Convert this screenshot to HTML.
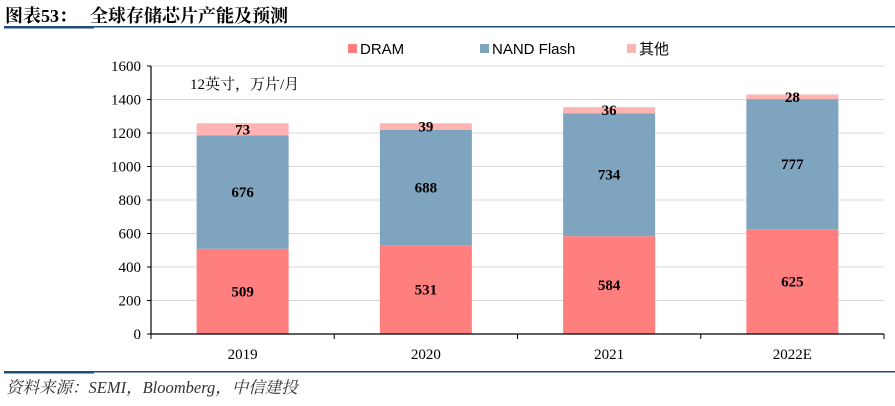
<!DOCTYPE html>
<html><head><meta charset="utf-8">
<style>
body{margin:0;width:895px;height:401px;background:#fff;overflow:hidden;font-family:"Liberation Serif","Noto Serif CJK SC",serif;}
svg text{font-family:"Liberation Serif","Noto Serif CJK SC",serif;}
</style></head>
<body>
<svg id="c" width="895" height="401">
<text x="5" y="22" font-size="18" font-weight="bold" fill="#000">图表53：</text>
<text x="90" y="22" font-size="18" font-weight="bold" fill="#000">全球存储芯片产能及预测</text>
<rect x="4" y="26" width="891" height="1.5" fill="#1f4e79"/>
<rect x="4" y="26" width="90" height="2.5" fill="#1f4e79"/>
<rect x="4" y="371" width="891" height="1.5" fill="#1f4e79"/>
<rect x="4" y="371" width="90" height="2.5" fill="#1f4e79"/>
<text x="6" y="393" font-size="16.5" font-style="italic" fill="#333">资料来源：SEMI，Bloomberg，中信建投</text>
<text x="190" y="89" font-size="15" fill="#000">12英寸，万片/月</text>
<g id="legend">
<rect x="348" y="44" width="9" height="9" fill="#ff7f7f"/>
<text x="360" y="54" font-size="15" style="font-family:'Liberation Sans',sans-serif" fill="#000">DRAM</text>
<rect x="480" y="44" width="9" height="9" fill="#7fa4bf"/>
<text x="492" y="54" font-size="15" style="font-family:'Liberation Sans',sans-serif" fill="#000">NAND Flash</text>
<rect x="627" y="44" width="9" height="9" fill="#ffb3b3"/>
<text x="639" y="54" font-size="15" style="font-family:'Liberation Sans','Noto Sans CJK SC',sans-serif" fill="#000">其他</text>
</g>
<g id="plot"></g>
</svg>
<script>
const categories=["2019","2020","2021","2022E"];
const dram=[509,531,584,625];
const nand=[676,688,734,777];
const other=[73,39,36,28];
const yTicks=[0,200,400,600,800,1000,1200,1400,1600];
const colors=["#ff7f7f","#7fa4bf","#ffb3b3"];
const NS="http://www.w3.org/2000/svg";
const g=document.getElementById('plot');
const x0=151,x1=884,y0=334,y1=66,yMax=1600;
const bw=(x1-x0)/categories.length, barW=92;
function y(v){return y0-(v/yMax)*(y0-y1);}
function xc(i){return x0+bw*(i+0.5);}
function mk(t,a){const e=document.createElementNS(NS,t);for(const k in a)e.setAttribute(k,a[k]);g.appendChild(e);return e;}
yTicks.forEach(t=>{
  if(t>0){const l=mk('line',{x1:x0,x2:x1,y1:y(t),y2:y(t),stroke:'#d9d9d9','stroke-width':1});
  
  }
  const tk=mk('line',{x1:x0-4,x2:x0,y1:y(t),y2:y(t),stroke:'#000'});
  
  
  const tx=mk('text',{x:x0-10,y:y(t)+5,'text-anchor':'end','font-size':15,fill:'#000'});
  tx.textContent=t;
  
  
});
const series=[dram,nand,other];
const names=['dram','nand','other'];
categories.forEach((c,i)=>{
  let base=0;
  series.forEach((s,j)=>{
    const v=s[i];
    const r=mk('rect',{x:xc(i)-barW/2,y:y(base+v),width:barW,height:y(base)-y(base+v),fill:colors[j]});
    
    
    const t=mk('text',{x:xc(i),y:(y(base)+y(base+v))/2+5,'text-anchor':'middle','font-size':15,'font-weight':'bold',fill:'#000'});
    t.textContent=v;
    
    
    base+=v;
  });
  const lb=mk('text',{x:xc(i),y:y0+25,'text-anchor':'middle','font-size':15,fill:'#000'});
  lb.textContent=c;
  
  
});
for(let i=0;i<=categories.length;i++){
  const t=mk('line',{x1:x0+bw*i,x2:x0+bw*i,y1:y0,y2:y0+5,stroke:'#000'});
  
  
}
const ya=mk('line',{x1:x0,x2:x0,y1:y1,y2:y0,stroke:'#000','stroke-width':1.2});


const xa=mk('line',{x1:x0,x2:x1,y1:y0,y2:y0,stroke:'#000','stroke-width':1.2});


</script>
</body></html>
